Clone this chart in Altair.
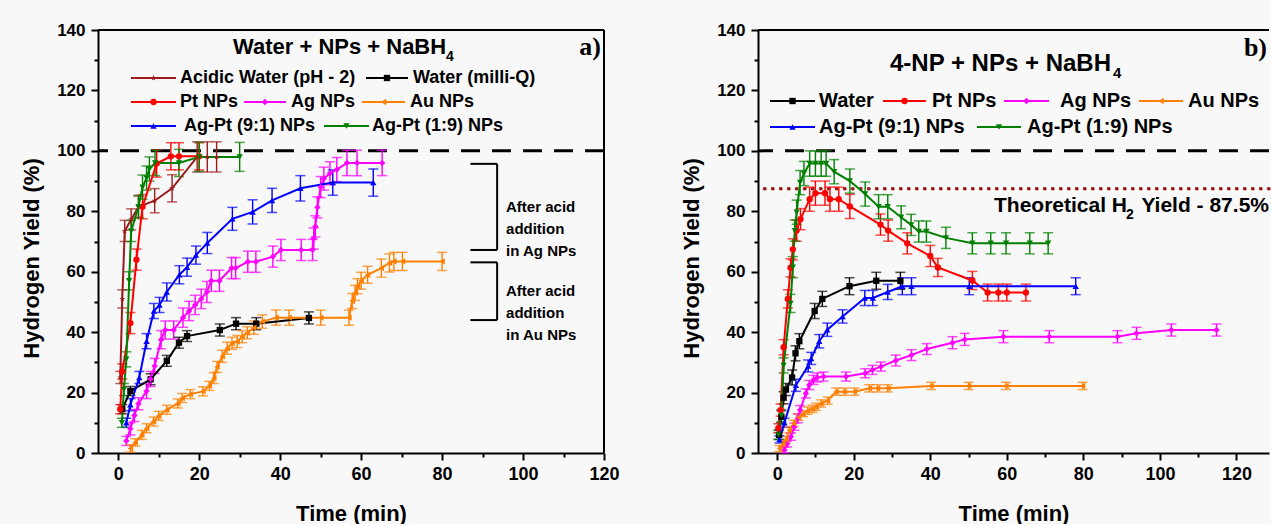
import altair as alt
import pandas as pd

FONT = "Liberation Sans"

# ---------------- series keys / styles ----------------
KEYS = ["acid", "water", "pt", "ag", "au", "agpt91", "agpt19"]
COLORS = ["#9B1B1B", "#000000", "#FF0000", "#FF00FF", "#FF8000", "#0000FF", "#008000"]
STAR = ("M0,-1L0.2245,-0.309L0.951,-0.309L0.363,0.118L0.588,0.809L0,0.382"
        "L-0.588,0.809L-0.363,0.118L-0.951,-0.309L-0.2245,-0.309Z")
SHAPES = [STAR, "square", "circle", "diamond", "triangle-left", "triangle-up", "triangle-down"]

# ---------------- panel a data (Water + NPs + NaBH4) ----------------
A_ACID_T = [0.5, 1.0, 1.6, 3.2, 5.0, 9.0, 13.3, 19.5, 22.0, 24.3]
A_ACID_V = [25, 51, 73.5, 77.3, 81.5, 83.5, 87.6, 98, 98, 98]
A_ACID_E = [2, 3, 3.5, 3.5, 3.5, 4.0, 4.5, 5, 5, 5]

A_WATER_T = [1.0, 3.0, 8.0, 12.0, 15.0, 17.0, 25.1, 29.1, 34.1, 47.1]
A_WATER_V = [14.5, 20.5, 24.4, 30.5, 36.5, 38.7, 40.7, 42.8, 42.8, 44.7]
A_WATER_E = [1.5, 1.5, 1.8, 1.8, 1.8, 1.8, 2.0, 2.0, 2.0, 2.0]

A_PT_T = [0.5, 1.0, 3.0, 4.5, 6.0, 9.5, 13.0, 15.0, 20.0]
A_PT_V = [14.5, 27, 43, 64, 81.5, 95.8, 98.2, 98.2, 98.2]
A_PT_E = [1.5, 2.5, 3.5, 3.5, 4.0, 4.5, 4.5, 4.5, 4.5]

A_AG_T = [2, 3, 4, 5, 7, 8, 9, 10.6, 11.6, 13.7, 16, 17.5, 19, 20.5, 21.9, 23, 25,
          28, 29, 32, 34, 38.2, 40.2, 45.2, 48, 48.3, 48.7, 49.2, 50, 50.8, 52.3,
          54, 56.5, 59, 65.2]
A_AG_V = [4, 8, 12.4, 16.3, 20.5, 24.5, 28.8, 37.5, 40.7, 40.7, 44.8, 47, 49, 51,
          53.3, 57, 57, 61.2, 61.2, 63.3, 63.3, 65, 67.2, 67.2, 67.2, 71, 75, 81.3,
          88, 90.8, 92.6, 93.8, 96, 96, 96]
A_AG_E = [1.5, 2, 2, 2, 2.5, 2.5, 2.5, 3, 3, 3, 3.2, 3.2, 3.2, 3.2, 3.5, 3.5, 3.5,
          3.5, 3.5, 3.5, 3.5, 3.5, 3.5, 3.5, 3.5, 3.5, 3.5, 3.5, 3.5, 3.8, 3.8, 4,
          4.2, 4.2, 4.2]

A_AU_T = [3, 4.2, 5.8, 7, 8.7, 10, 12, 14.7, 15.8, 17.8, 20.9, 22.5, 23.6, 24.4,
          25.7, 26.9, 28.1, 29.4, 30.6, 31.9, 33.5, 35.6, 39, 42.2, 50, 57, 57.8,
          58.5, 59.1, 60, 61.6, 65, 67, 68.1, 70.2, 80]
A_AU_V = [1.5, 3.5, 6, 8.2, 10.4, 12.3, 14.3, 16.4, 18.2, 19.5, 20.4, 22.2, 24.8,
          28.5, 32, 34.7, 36.3, 36.9, 38.5, 39.8, 41.5, 43.5, 44.8, 44.8, 44.8, 44.8,
          50.3, 53, 55.2, 57, 59, 61.2, 62.9, 63.4, 63.4, 63.4]
A_AU_E = [1.2, 1.2, 1.5, 1.5, 1.5, 1.5, 1.5, 1.5, 1.5, 1.5, 1.5, 1.5, 1.8, 1.8, 2,
          2, 2, 2, 2, 2, 2.2, 2.2, 2.5, 2.5, 2.5, 2.5, 2.5, 2.5, 2.5, 2.8, 2.8, 3, 3,
          3, 3, 3]

A_AGPT91_T = [2, 3, 5.2, 7, 8.8, 10.2, 12, 15.1, 17, 19.2, 22, 28.2, 33.2, 38, 45, 53, 63]
A_AGPT91_V = [10, 16, 25, 37, 47, 49, 53.3, 59, 61.5, 65.5, 69.5, 77.5, 79.8, 83.6,
              87.6, 89.5, 89.5]
A_AGPT91_E = [1.5, 2, 2, 2.5, 2.5, 2.5, 3, 3, 3, 3, 3.5, 3.8, 4, 4, 4.2, 4.2, 4.5]

A_AGPT19_T = [0.9, 1.4, 2.0, 2.7, 3.2, 5.0, 6.0, 7.0, 7.7, 9.1, 15.0, 20.0, 30.0]
A_AGPT19_V = [10, 21, 31, 57, 73.5, 81.5, 88, 91, 94, 96, 96, 98, 98]
A_AGPT19_E = [1.5, 2, 2.5, 3, 3.5, 3.8, 4, 4, 4, 4.2, 4.5, 4.8, 4.8]

# ---------------- panel b data (4-NP + NPs + NaBH4) ----------------
B_WATER_T = [0.5, 1.1, 1.7, 2.3, 3.9, 4.8, 5.8, 9.8, 11.8, 18.9, 25.9, 32.2]
B_WATER_V = [6, 12, 18.3, 21, 25, 33, 37, 47, 51, 55.2, 57, 57]
B_WATER_E = [1.5, 2, 2, 2, 2.5, 2.5, 2.5, 2.5, 2.5, 2.8, 2.8, 2.8]

B_PT_T = [0.3, 0.9, 1.7, 2.8, 3.5, 4.1, 5.1, 6.1, 8.5, 10, 12.5, 13.8, 16.1, 19, 27,
          29, 34, 40, 42, 51, 55, 57.8, 60, 65]
B_PT_V = [8.2, 14.2, 35, 51, 61.3, 67.4, 73.6, 77.4, 84, 86, 86, 84, 84, 81.6, 75.6,
          73.6, 69.4, 65.2, 61.4, 57.1, 53.1, 53.1, 53.1, 53.1]
B_PT_E = [1.5, 2, 2.5, 3, 3, 3.5, 3.5, 3.5, 4, 4, 4, 4, 4, 4, 3.5, 3.5, 3.5, 3.5, 3,
          3, 2.8, 2.8, 2.8, 2.8]

B_AG_T = [1.9, 2.6, 3.6, 4.5, 5.4, 6, 7.5, 8.4, 9.5, 10.5, 12.1, 18, 23, 24.9, 27.1,
          31, 35.1, 39.1, 45.8, 49, 59.1, 71.1, 88.9, 93.9, 103, 114.8]
B_AG_V = [1, 3, 5.4, 8.7, 11.5, 14.2, 19.7, 22.5, 24.2, 25, 25.3, 25.3, 26.4, 27.5,
          28.6, 30.6, 32.4, 34.4, 36.5, 37.6, 38.5, 38.5, 38.5, 39.6, 40.7, 40.7]
B_AG_E = [1, 1, 1.2, 1.2, 1.5, 1.5, 1.5, 1.5, 1.5, 1.5, 1.5, 1.5, 1.5, 1.5, 1.5, 1.8,
          1.8, 1.8, 2, 2, 2, 2, 2, 2, 2, 2]

B_AU_T = [0.6, 1.5, 2.3, 3.2, 4.3, 5.6, 6.8, 8, 9.2, 10.2, 11.5, 13.2, 15.4, 17.5,
          20.2, 24.1, 26.2, 28.9, 40.2, 50, 59.8, 79.8]
B_AU_V = [1.5, 3, 4.5, 7.6, 9.8, 11.8, 13, 14, 14.6, 15.3, 16.4, 17.3, 20.3, 20.3,
          20.3, 21.4, 21.4, 21.4, 22.2, 22.2, 22.2, 22.2]
B_AU_E = [1, 1, 1, 1, 1, 1, 1, 1.2, 1.2, 1.2, 1.2, 1.2, 1.2, 1.2, 1.2, 1.2, 1.2, 1.2,
          1.2, 1.2, 1.2, 1.2]

B_AGPT91_T = [0.6, 1.9, 4.9, 8.1, 8.9, 11, 13.1, 17.1, 22.9, 25, 28.9, 32.7, 35.1, 50.2, 78]
B_AGPT91_V = [4.5, 10, 22.4, 28.8, 31.3, 37, 40.8, 45.2, 51.3, 51.3, 53.3, 55.2, 55.2,
              55.2, 55.2]
B_AGPT91_E = [1.2, 1.5, 2, 2, 2, 2.2, 2.2, 2.2, 2.5, 2.5, 2.5, 2.8, 2.8, 2.8, 2.8]

B_AGPT19_T = [0.3, 1.1, 1.7, 3.5, 4.1, 4.6, 5.1, 6, 7, 8.5, 10, 11.5, 12.8, 14.9, 19,
              23, 26.5, 28.9, 32.4, 35, 37, 39, 44.1, 51, 55.8, 59.8, 66, 70.8]
B_AGPT19_V = [6, 12.4, 29, 49.5, 61.5, 73.6, 79.7, 89.5, 92.5, 95.8, 95.8, 95.8,
              95.8, 93.1, 90, 85.7, 81.5, 81.5, 78, 75.5, 73.3, 73.3, 71.2, 69.4,
              69.4, 69.4, 69.4, 69.4]
B_AGPT19_E = [1.5, 2, 2.5, 3, 3.5, 3.5, 4, 4, 4, 4.2, 4.2, 4.2, 4.2, 4, 4, 4, 4, 4,
              3.8, 3.5, 3.5, 3.5, 3.5, 3.5, 3.5, 3.5, 3.5, 3.5]

# ---------------- reference levels / annotations ----------------
FULL_YIELD = [100]
THEORETICAL_YIELD = [87.5]
BRACKET_X = [87, 93.6]
BRACKET_LOW = [67.2, 44.0]
BRACKET_HIGH = [95.7, 63.1]
BRACKET_TEXT = [["After acid", "addition", "in Ag NPs"], ["After acid", "addition", "in Au NPs"]]
BRACKET_TEXT_X = [95.8, 95.8]

X_TICKS = list(range(0, 121, 10))
Y_TICKS = list(range(0, 141, 10))


def frame(series):
    rows = []
    for key, ts, vs, es in series:
        for t, v, e in zip(ts, vs, es):
            rows.append({"s": key, "t": t, "v": v, "e": e})
    return pd.DataFrame(rows)


df_a = frame([
    ("acid", A_ACID_T, A_ACID_V, A_ACID_E),
    ("water", A_WATER_T, A_WATER_V, A_WATER_E),
    ("pt", A_PT_T, A_PT_V, A_PT_E),
    ("ag", A_AG_T, A_AG_V, A_AG_E),
    ("au", A_AU_T, A_AU_V, A_AU_E),
    ("agpt91", A_AGPT91_T, A_AGPT91_V, A_AGPT91_E),
    ("agpt19", A_AGPT19_T, A_AGPT19_V, A_AGPT19_E),
])
df_b = frame([
    ("water", B_WATER_T, B_WATER_V, B_WATER_E),
    ("pt", B_PT_T, B_PT_V, B_PT_E),
    ("ag", B_AG_T, B_AG_V, B_AG_E),
    ("au", B_AU_T, B_AU_V, B_AU_E),
    ("agpt91", B_AGPT91_T, B_AGPT91_V, B_AGPT91_E),
    ("agpt19", B_AGPT19_T, B_AGPT19_V, B_AGPT19_E),
])

PLOT_H = 423
W_A = 506
W_B = 511


def make_axes(xdom):
    major = "datum.value % 20 === 0"
    xaxis = alt.Axis(values=X_TICKS, labelExpr=f"{major} ? datum.label : ''",
                     tickSize={"condition": {"test": major, "value": 7}, "value": 4},
                     title="Time (min)", titleFontSize=22, titleY=60,
                     titleBaseline="middle", labelFontSize=18, labelPadding=5,
                     labelFlush=False, labelOverlap=False)
    yaxis = alt.Axis(values=Y_TICKS, labelExpr=f"{major} ? datum.label : ''",
                     tickSize={"condition": {"test": major, "value": 7}, "value": 4},
                     title="Hydrogen Yield (%)", titleFontSize=22, titleX=-67,
                     titleY=228, titleBaseline="middle", labelFontSize=17,
                     labelPadding=6, labelFlush=False, labelOverlap=False)
    xs = alt.Scale(domain=xdom, nice=False, zero=False)
    ys = alt.Scale(domain=[0, 140], nice=False, zero=True)

    def X(f):
        return alt.X(f"{f}:Q", scale=xs, axis=xaxis)

    def Y(f):
        return alt.Y(f"{f}:Q", scale=ys, axis=yaxis)
    return X, Y


def one():
    return alt.Data(values=[{}])


def legend_item(x1, x2, y, key, label, tx, fs):
    c = COLORS[KEYS.index(key)]
    shp = SHAPES[KEYS.index(key)]
    line = alt.Chart(one()).mark_rule(color=c, strokeWidth=2).encode(
        x=alt.value(x1), x2=alt.value(x2), y=alt.value(y))
    pt = alt.Chart(one()).mark_point(shape=shp, filled=True, color=c, size=40, opacity=1).encode(
        x=alt.value((x1 + x2) / 2), y=alt.value(y))
    txt = alt.Chart(one()).mark_text(text=label, align="left", baseline="middle", font=FONT,
                                     fontSize=fs, fontWeight="bold", color="black").encode(
        x=alt.value(tx), y=alt.value(y))
    return [line, pt, txt]


def label(text, x, y, fs, font=FONT, align="left"):
    return alt.Chart(one()).mark_text(text=text, align=align, baseline="middle", font=font,
                                      fontSize=fs, fontWeight="bold", color="black").encode(
        x=alt.value(x), y=alt.value(y))


def frame_lines(width, right):
    out = [alt.Chart(one()).mark_rule(color="black", strokeWidth=2).encode(
        x=alt.value(0), x2=alt.value(width), y=alt.value(0))]
    if right:
        out.append(alt.Chart(one()).mark_rule(color="black", strokeWidth=2).encode(
            x=alt.value(width), y=alt.value(0), y2=alt.value(PLOT_H)))
    return out


def data_layers(df, X, Y):
    color = alt.Color("s:N", scale=alt.Scale(domain=KEYS, range=COLORS), legend=None)
    shape = alt.Shape("s:N", scale=alt.Scale(domain=KEYS, range=SHAPES), legend=None)
    base = alt.Chart(df).transform_calculate(lo="datum.v - datum.e", hi="datum.v + datum.e")
    err = base.mark_rule(strokeWidth=1.4).encode(x=X("t"), y=Y("lo"), y2="hi:Q", color=color)
    cap_lo = base.mark_tick(orient="horizontal", size=10, thickness=1.5).encode(
        x=X("t"), y=Y("lo"), color=color)
    cap_hi = base.mark_tick(orient="horizontal", size=10, thickness=1.5).encode(
        x=X("t"), y=Y("hi"), color=color)
    line = base.mark_line(strokeWidth=2).encode(x=X("t"), y=Y("v"), color=color,
                                                 order="t:Q")
    pts = base.mark_point(filled=True, size=40, opacity=1).encode(
        x=X("t"), y=Y("v"), color=color, shape=shape)
    return [err, cap_lo, cap_hi, line, pts]


# ---------------- panel a ----------------
Xa, Ya = make_axes([-5, 120])
full_a = alt.Chart(pd.DataFrame({"v": FULL_YIELD})).mark_rule(
    strokeDash=[19, 12], strokeWidth=3, color="black").encode(y=Ya("v"))

br = pd.DataFrame({"x1": [BRACKET_X[0]] * 2, "x2": [BRACKET_X[1]] * 2,
                   "lo": BRACKET_LOW, "hi": BRACKET_HIGH,
                   "mid": [(l + h) / 2 for l, h in zip(BRACKET_LOW, BRACKET_HIGH)],
                   "txt": BRACKET_TEXT, "tx": BRACKET_TEXT_X})
br_top = alt.Chart(br).mark_rule(color="black", strokeWidth=2).encode(
    x=Xa("x1"), x2="x2:Q", y=Ya("hi"))
br_bot = alt.Chart(br).mark_rule(color="black", strokeWidth=2).encode(
    x=Xa("x1"), x2="x2:Q", y=Ya("lo"))
br_side = alt.Chart(br).mark_rule(color="black", strokeWidth=2).encode(
    x=Xa("x2"), y=Ya("lo"), y2="hi:Q")
br_txt = alt.Chart(br).mark_text(align="left", baseline="middle", font=FONT, fontSize=15,
                                 fontWeight="bold", lineHeight=22, color="black").encode(
    x=Xa("tx"), y=Ya("mid"), text="txt")

legend_a = []
legend_a += legend_item(33, 78, 48, "acid", "Acidic Water (pH - 2)", 82, 18)
legend_a += legend_item(268, 310, 48, "water", "Water (milli-Q)", 315, 18)
legend_a += legend_item(33, 78, 72, "pt", "Pt NPs", 82, 18)
legend_a += legend_item(146, 188, 72, "ag", "Ag NPs", 193, 18)
legend_a += legend_item(264, 307, 72, "au", "Au NPs", 312, 18)
legend_a += legend_item(33, 78, 96, "agpt91", "Ag-Pt (9:1) NPs", 86, 18)
legend_a += legend_item(226, 271, 96, "agpt19", "Ag-Pt (1:9) NPs", 274, 18)

title_a = [label("Water + NPs + NaBH", 135, 17, 22), label("4", 348, 27, 14),
           label("a)", 503, 17, 26, font="Liberation Serif", align="right")]

panel_a = alt.layer(*frame_lines(W_A, True), full_a, br_top, br_bot, br_side, br_txt,
                    *data_layers(df_a, Xa, Ya), *legend_a, *title_a).properties(
    width=W_A, height=PLOT_H)

# ---------------- panel b ----------------
Xb, Yb = make_axes([-5, 128.5])
full_b = alt.Chart(pd.DataFrame({"v": FULL_YIELD})).mark_rule(
    strokeDash=[19, 12], strokeWidth=3, color="black").encode(y=Yb("v"))
theo_b = alt.Chart(pd.DataFrame({"v": THEORETICAL_YIELD})).mark_rule(
    strokeDash=[0.5, 7.5], strokeCap="round", strokeWidth=3.5, color="#9B1B1B").encode(y=Yb("v"))

legend_b = []
legend_b += legend_item(12, 57, 71, "water", "Water", 61, 20)
legend_b += legend_item(125, 168, 71, "pt", "Pt NPs", 174, 20)
legend_b += legend_item(246, 291, 71, "ag", "Ag NPs", 302, 20)
legend_b += legend_item(381, 425, 71, "au", "Au NPs", 430, 20)
legend_b += legend_item(12, 57, 97, "agpt91", "Ag-Pt (9:1) NPs", 61, 20)
legend_b += legend_item(219, 263, 97, "agpt19", "Ag-Pt (1:9) NPs", 269, 20)

title_b = [label("4-NP + NPs + NaBH", 132, 34, 24), label("4", 355, 43, 15),
           label("b)", 509, 18, 26, font="Liberation Serif", align="right"),
           label("Theoretical H", 236, 176, 21), label("2", 368, 185, 14),
           label("Yield - 87.5%", W_B, 176, 21, align="right")]

panel_b = alt.layer(*frame_lines(W_B, False), full_b, theo_b, *data_layers(df_b, Xb, Yb),
                    *legend_b, *title_b).properties(width=W_B, height=PLOT_H)

chart = alt.hconcat(panel_a, panel_b, spacing=60).properties(
    padding={"left": 20, "top": 21, "right": 0, "bottom": 0},
    background="#f8f8f8",
).configure_view(
    strokeWidth=0, stroke="transparent", fill="#f8f8f8"
).configure_axis(
    domainColor="black", domainWidth=2, tickColor="black", tickWidth=2, grid=False,
    labelFont=FONT, labelFontWeight="bold", labelColor="black",
    titleFont=FONT, titleFontWeight="bold", titleColor="black",
)

chart.save("out.html", embed_options={"renderer": "svg", "actions": False})
